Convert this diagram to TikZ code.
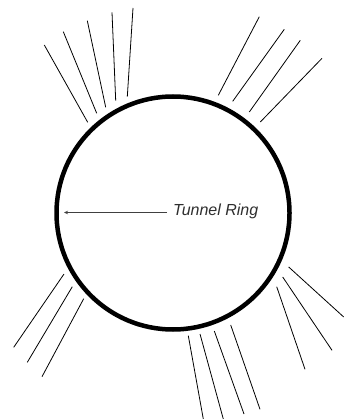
\documentclass[tikz,border=0pt]{standalone}
\usepackage{fontspec}
\setmainfont{Liberation Sans}
\usetikzlibrary{arrows.meta}
\begin{document}
\begin{tikzpicture}[x=1pt,y=-1pt,
  ray/.style={line width=0.8pt,black},
  ringline/.style={line width=4.5pt,black},
  lbl/.style={font=\itshape\fontsize{16}{19}\selectfont,text=black!82,inner sep=0pt,anchor=base west},
  pointer/.style={line width=0.8pt,black!75,-{Stealth[length=4pt,width=3.5pt]}}]
\useasboundingbox (0,0) rectangle (344,419);
\node[ringline,draw,circle,minimum size=233pt,inner sep=0pt] (ring) at (173,213) {};
\node[lbl] (label) at (173,215.5) {Tunnel Ring};
\coordinate (tip) at (64,212.5);
\draw[pointer] ([xshift=-6pt,yshift=3pt]label.base west) -- (tip);
% top-left rays
\draw[ray] (44.3,45) -- (87.7,122.3);
\draw[ray] (63.3,31.7) -- (96.7,113.3);
\draw[ray] (87.3,20.7) -- (105.7,107.3);
\draw[ray] (112,12.3) -- (115.7,100.7);
\draw[ray] (133,8) -- (127.3,96.7);
% top-right rays
\draw[ray] (259.3,16.7) -- (218.3,95.3);
\draw[ray] (284.3,29.3) -- (232.7,101.3);
\draw[ray] (300.3,40.3) -- (249.3,112);
\draw[ray] (322,58.3) -- (260.3,122);
% bottom-left rays
\draw[ray] (64,274) -- (13.7,347.3);
\draw[ray] (72.3,286.7) -- (27.3,362.3);
\draw[ray] (83.7,298.7) -- (42,376.7);
% bottom-middle rays
\draw[ray] (188.3,335.7) -- (203.3,419);
\draw[ray] (200,334) -- (223.3,419);
\draw[ray] (214.3,331) -- (244,414);
\draw[ray] (230.7,325) -- (260,409.3);
% bottom-right rays
\draw[ray] (288.7,267) -- (343.7,317);
\draw[ray] (282.7,277) -- (332,350.3);
\draw[ray] (276.7,286.7) -- (305,369.3);
\end{tikzpicture}
\end{document}
